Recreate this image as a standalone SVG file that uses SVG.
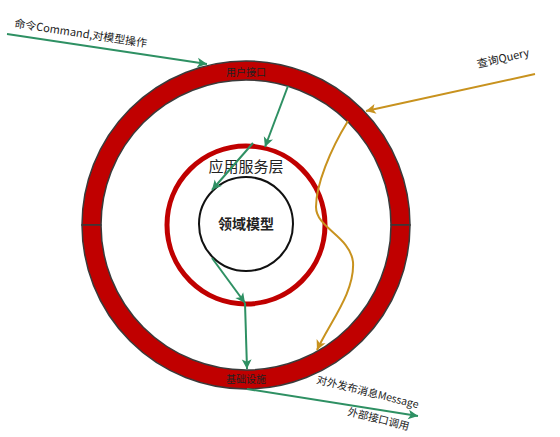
<svg xmlns="http://www.w3.org/2000/svg" width="560" height="437" viewBox="0 0 560 437">
<style>
.ring{fill:#c00000;stroke:#3a3a3a;stroke-width:1.5}
.t{font-family:"Noto Sans CJK SC","Noto Sans",sans-serif;fill:#222}
.g{stroke:#2e9063;stroke-width:2;fill:none}
.y{stroke:#c8921e;stroke-width:2;fill:none}
</style>
<defs>
<marker id="ag" viewBox="0 0 10 10" refX="9" refY="5" markerWidth="7" markerHeight="7" orient="auto" markerUnits="userSpaceOnUse" overflow="visible"><path d="M0,0 L10,5 L0,10 L2.5,5 Z" fill="#2e9063" transform="scale(1.4) translate(-3.5,-1.4)"/></marker>
<marker id="ay" viewBox="0 0 10 10" refX="9" refY="5" markerWidth="7" markerHeight="7" orient="auto" markerUnits="userSpaceOnUse" overflow="visible"><path d="M0,0 L10,5 L0,10 L2.5,5 Z" fill="#c8921e" transform="scale(1.4) translate(-3.5,-1.4)"/></marker>
</defs>
<rect width="560" height="437" fill="#fff"/>
<g id="outer-ring">
<path class="ring" d="M82,225 A164,164 0 0 1 410,225 L391,225 A145,145 0 0 0 101,225 Z"/>
<path class="ring" d="M82,225 A164,164 0 0 0 410,225 L391,225 A145,145 0 0 1 101,225 Z"/>
<text class="t" x="246" y="76" font-size="10" text-anchor="middle">用户接口</text>
<text class="t" x="246" y="383" font-size="10" text-anchor="middle">基础设施</text>
</g>
<g id="app-service">
<circle cx="246" cy="225" r="79" fill="none" stroke="#c00000" stroke-width="5"/>
<text class="t" x="246" y="172" font-size="15" text-anchor="middle">应用服务层</text>
</g>
<g id="domain">
<circle cx="246" cy="224" r="47" fill="#fff" stroke="#111" stroke-width="2"/>
<text class="t" x="246" y="229" font-size="14" font-weight="bold" text-anchor="middle">领域模型</text>
</g>
<g id="connectors">
<line class="g" x1="7" y1="34" x2="207" y2="64" marker-end="url(#ag)"/>
<line class="g" x1="288" y1="86" x2="265" y2="147" marker-end="url(#ag)"/>
<line class="g" x1="253" y1="143" x2="212" y2="190" marker-end="url(#ag)"/>
<line class="g" x1="212" y1="258" x2="245" y2="303" marker-end="url(#ag)"/>
<line class="g" x1="245" y1="303" x2="247" y2="369" marker-end="url(#ag)"/>
<line class="g" x1="247" y1="389" x2="418" y2="416" marker-end="url(#ag)"/>
<line class="y" x1="535" y1="74" x2="366" y2="111" marker-end="url(#ay)"/>
<path class="y" d="M348,121 C330,150 316,185 316,207 C316,228 350,236 353,262 C355,292 330,322 317,350" marker-end="url(#ay)"/>
<text class="t" font-size="11" transform="translate(14,27) rotate(8.7)">命令Command,对模型操作</text>
<text class="t" font-size="11" transform="translate(478,68) rotate(-13)">查询Query</text>
<text class="t" font-size="10.5" transform="translate(316,383) rotate(14)">对外发布消息Message</text>
<text class="t" font-size="10.5" transform="translate(347,415) rotate(14)">外部接口调用</text>
</g>
</svg>
